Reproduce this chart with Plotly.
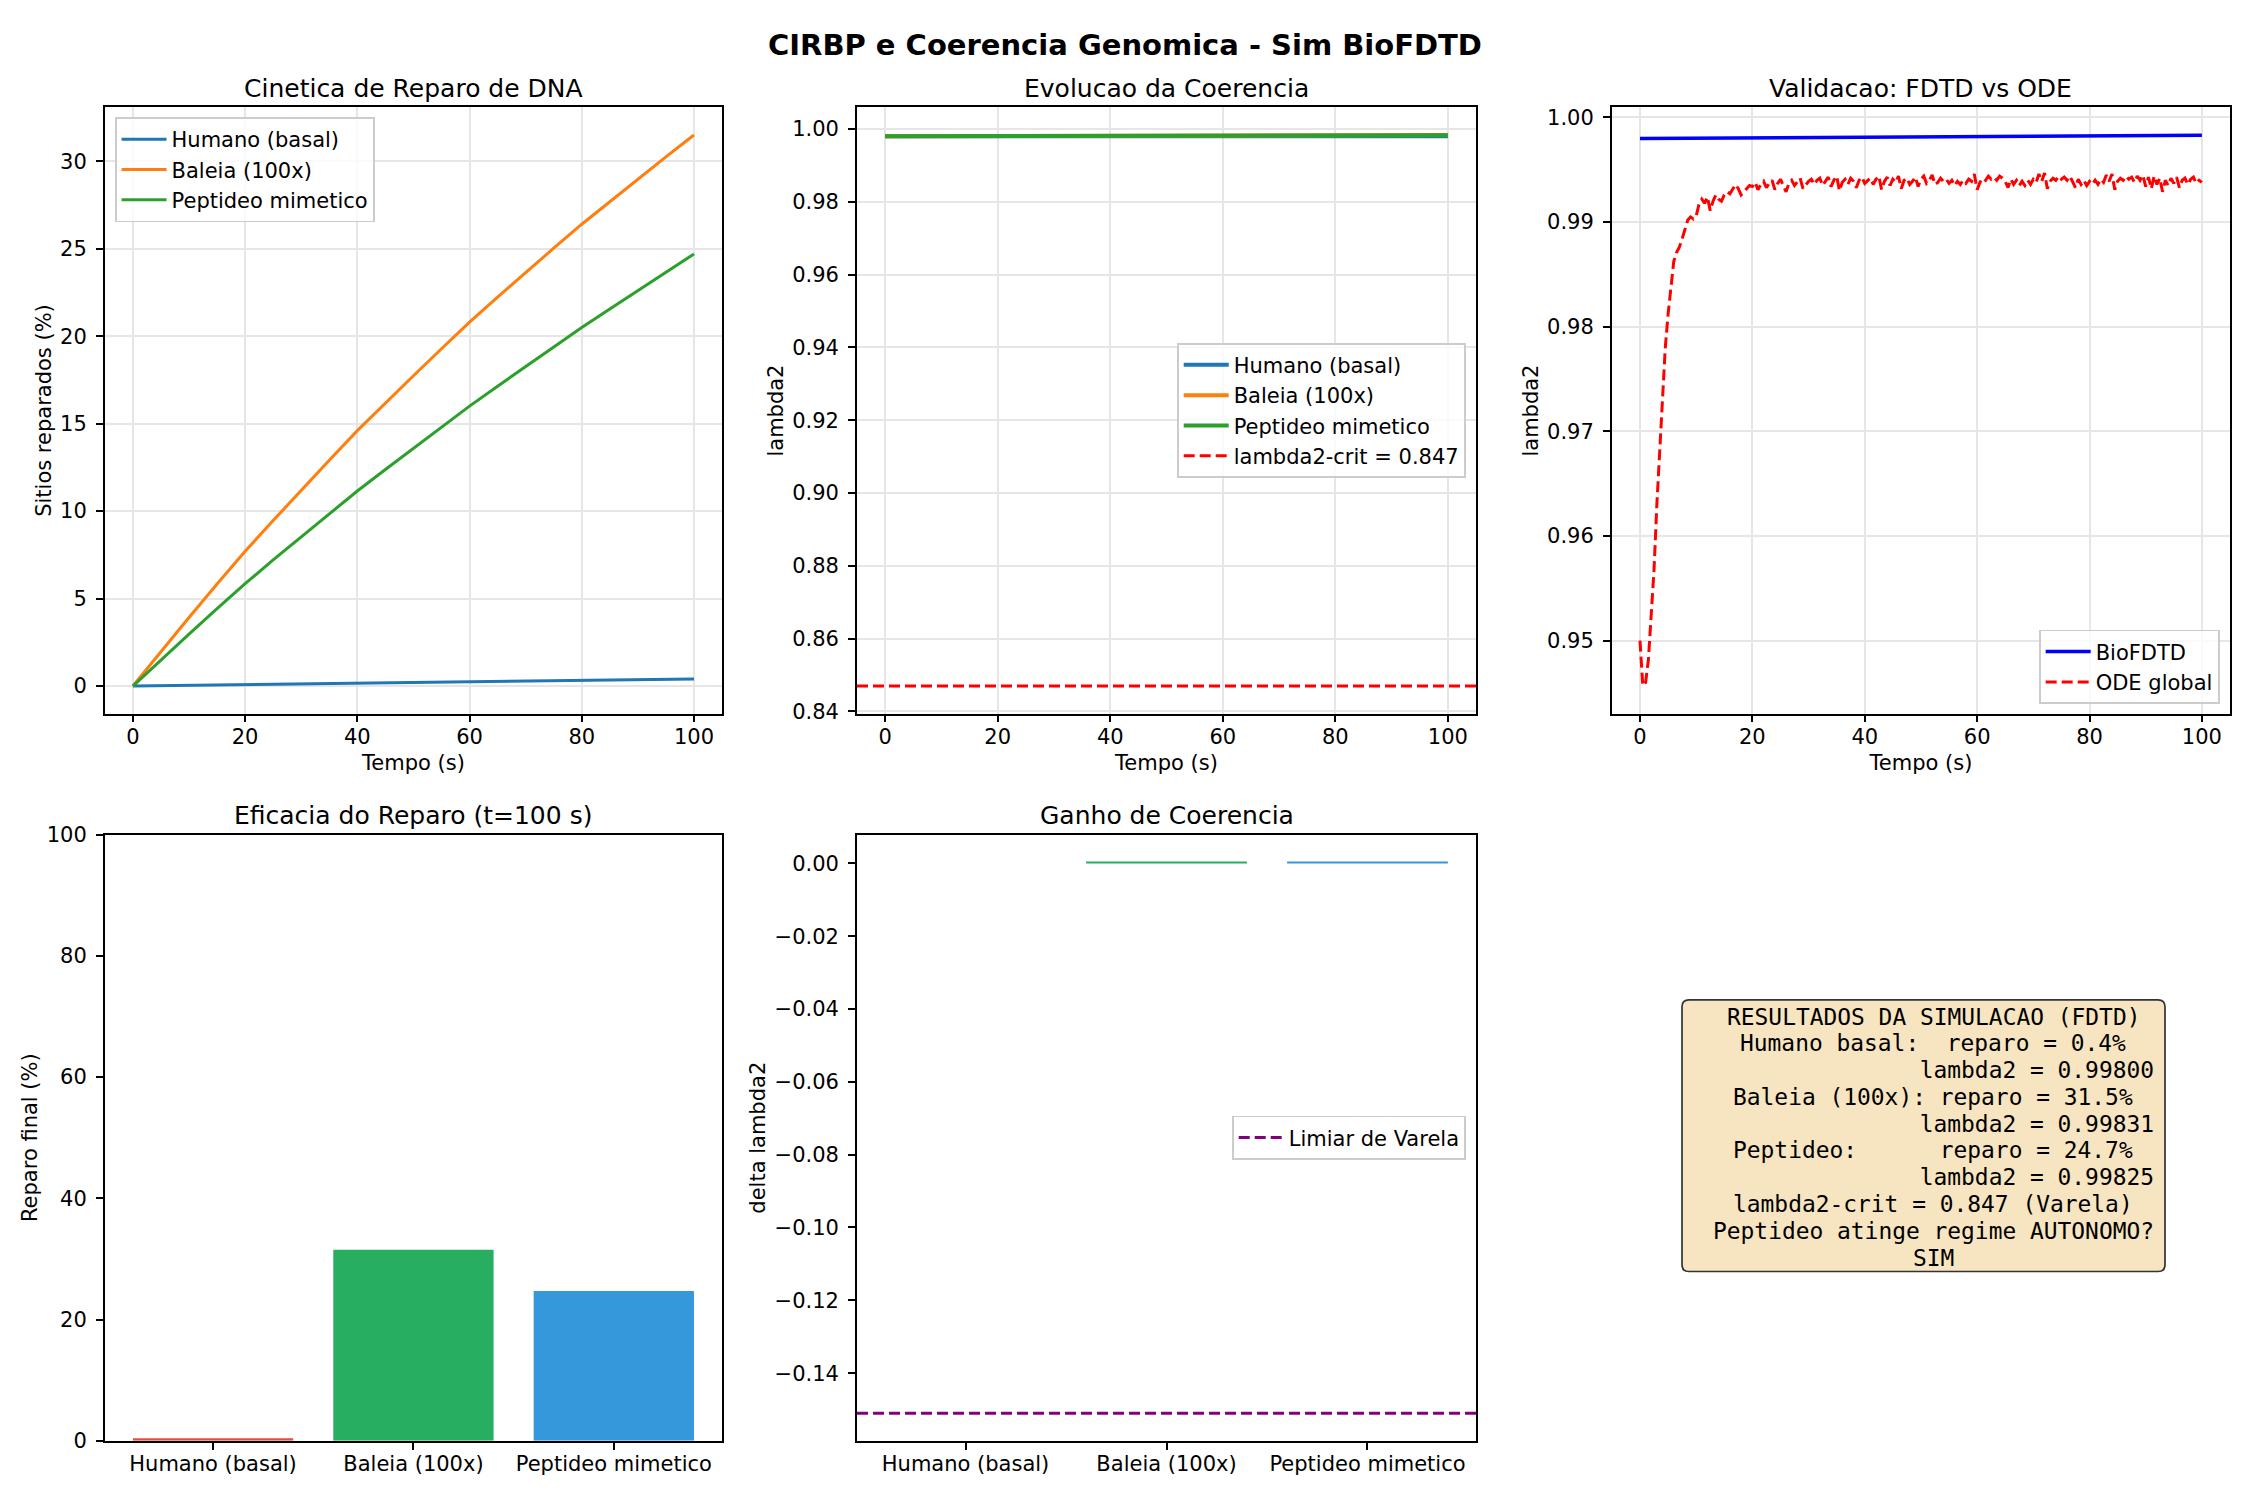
import numpy as np
import plotly.graph_objects as go

FONT = "DejaVu Sans"
MONO = "DejaVu Sans Mono"

GROUPS = ["Humano (basal)", "Baleia (100x)", "Peptideo mimetico"]
LINE_COLORS = ["#1f77b4", "#ff7f0e", "#2ca02c"]
BAR_COLORS = ["#e74c3c", "#27ae60", "#3498db"]

# repair kinetics, sampled every 5 s (%)
T_REPAIR = [0, 5, 10, 15, 20, 25, 30, 35, 40, 45, 50, 55, 60, 65, 70, 75, 80, 85, 90, 95, 100]
REPAIR_HUMANO = [0.00, 0.02, 0.04, 0.06, 0.08, 0.10, 0.12, 0.14, 0.16, 0.18, 0.20,
                 0.22, 0.24, 0.26, 0.28, 0.30, 0.32, 0.34, 0.36, 0.38, 0.40]
REPAIR_BALEIA = [0.00, 1.98, 3.92, 5.83, 7.70, 9.46, 11.20, 12.91, 14.60, 16.18, 17.74,
                 19.28, 20.80, 22.23, 23.64, 25.03, 26.40, 27.70, 28.98, 30.25, 31.50]
REPAIR_PEPTIDEO = [0.00, 1.50, 2.97, 4.42, 5.85, 7.21, 8.54, 9.85, 11.15, 12.38, 13.60,
                   14.81, 16.00, 17.14, 18.27, 19.39, 20.50, 21.56, 22.61, 23.66, 24.70]

# coherence lambda2, sampled every 10 s
T_COARSE = [0, 10, 20, 30, 40, 50, 60, 70, 80, 90, 100]
LAMBDA_HUMANO = [0.99800, 0.99800, 0.99800, 0.99800, 0.99800, 0.99800,
                 0.99800, 0.99800, 0.99800, 0.99800, 0.99800]
LAMBDA_BALEIA = [0.99800, 0.99803, 0.99806, 0.99809, 0.99812, 0.99815,
                 0.99818, 0.99821, 0.99824, 0.99828, 0.99831]
LAMBDA_PEPTIDEO = [0.99800, 0.99803, 0.99805, 0.99808, 0.99810, 0.99813,
                   0.99815, 0.99818, 0.99820, 0.99823, 0.99825]
BIOFDTD = [0.99800, 0.99803, 0.99806, 0.99809, 0.99812, 0.99815,
           0.99818, 0.99821, 0.99824, 0.99827, 0.99830]

# ODE global, sampled every 0.5 s from 0 to 100 s
ODE_GLOBAL = [
    0.9500, 0.9457, 0.9460, 0.9482, 0.9525, 0.9568, 0.9630, 0.9684, 0.9736, 0.9780,
    0.9812, 0.9840, 0.9862, 0.9871, 0.9876, 0.9884, 0.9894, 0.9902, 0.9905, 0.9903,
    0.9906, 0.9917, 0.9922, 0.9918, 0.9924, 0.9911, 0.9920, 0.9926, 0.9922, 0.9920,
    0.9926, 0.9929, 0.9927, 0.9931, 0.9936, 0.9932, 0.9926, 0.9929, 0.9932, 0.9935,
    0.9934,
    0.9938, 0.9931, 0.9936, 0.9939, 0.9933, 0.9937, 0.9940, 0.9931, 0.9937, 0.9941,
    0.9934, 0.9929, 0.9937, 0.9940, 0.9935, 0.9938, 0.9942, 0.9932, 0.9936, 0.9939,
    0.9941, 0.9936, 0.9940, 0.9942, 0.9935, 0.9939, 0.9943, 0.9934, 0.9940, 0.9944,
    0.9930, 0.9938, 0.9941, 0.9936, 0.9942, 0.9939, 0.9933, 0.9940, 0.9943, 0.9937,
    0.9940, 0.9942, 0.9936, 0.9941, 0.9944, 0.9931, 0.9939, 0.9943, 0.9935, 0.9941,
    0.9938, 0.9944, 0.9932, 0.9940, 0.9942, 0.9936, 0.9939, 0.9943, 0.9934, 0.9941,
    0.9944, 0.9937, 0.9940, 0.9945, 0.9936, 0.9938, 0.9942, 0.9939, 0.9941, 0.9937,
    0.9940, 0.9935, 0.9939, 0.9936, 0.9940, 0.9937, 0.9941, 0.9939, 0.9946, 0.9931,
    0.9938, 0.9942, 0.9940, 0.9944, 0.9941, 0.9943, 0.9940, 0.9944, 0.9942, 0.9939,
    0.9933, 0.9941, 0.9936, 0.9940, 0.9935, 0.9939, 0.9935, 0.9940, 0.9936, 0.9941,
    0.9938, 0.9946, 0.9939, 0.9947, 0.9932, 0.9939, 0.9942, 0.9940, 0.9944, 0.9941,
    0.9943, 0.9940, 0.9944, 0.9939, 0.9933, 0.9941, 0.9936, 0.9940, 0.9935, 0.9939,
    0.9936, 0.9940, 0.9936, 0.9941, 0.9938, 0.9945, 0.9939, 0.9946, 0.9931, 0.9939,
    0.9942, 0.9940, 0.9944, 0.9941, 0.9943, 0.9938, 0.9944, 0.9940, 0.9945, 0.9934,
    0.9943, 0.9932, 0.9944, 0.9936, 0.9942, 0.9929, 0.9940, 0.9935, 0.9942, 0.9937,
    0.9943, 0.9933, 0.9940, 0.9942, 0.9936, 0.9941, 0.9943, 0.9937, 0.9940, 0.9938,
]
T_ODE = np.arange(len(ODE_GLOBAL)) * 0.5

LAMBDA_CRIT = 0.847
FINAL_REPAIR = [0.4, 31.5, 24.7]
DELTA_LAMBDA = [0.0, 0.00031, 0.00025]
VARELA_DELTA = -0.151

SUMMARY_LINES = [
    "RESULTADOS DA SIMULACAO (FDTD)",
    "Humano basal:  reparo = 0.4%",
    "               lambda2 = 0.99800",
    "Baleia (100x): reparo = 31.5%",
    "               lambda2 = 0.99831",
    "Peptideo:      reparo = 24.7%",
    "               lambda2 = 0.99825",
    "lambda2-crit = 0.847 (Varela)",
    "Peptideo atinge regime AUTONOMO?",
    "SIM",
]

W, H = 2250, 1500
X_DOMAINS = [[0.0466, 0.3209], [0.3809, 0.6560], [0.7164, 0.9911]]
Y_TOP = [1 - 713 / H, 1 - 97 / H]
Y_BOTTOM = [1 - 1452 / H, 1 - 836 / H]
DASH = "11px,5px"

fig = go.Figure()

# panel 1 - repair kinetics
for name, values, color in zip(GROUPS, [REPAIR_HUMANO, REPAIR_BALEIA, REPAIR_PEPTIDEO], LINE_COLORS):
    fig.add_trace(go.Scatter(x=T_REPAIR, y=values, name=name, mode="lines",
                             line=dict(color=color, width=3), xaxis="x", yaxis="y", legend="legend"))

# panel 2 - coherence
for name, values, color in zip(GROUPS, [LAMBDA_HUMANO, LAMBDA_BALEIA, LAMBDA_PEPTIDEO], LINE_COLORS):
    fig.add_trace(go.Scatter(x=T_COARSE, y=values, name=name, mode="lines",
                             line=dict(color=color, width=4), xaxis="x2", yaxis="y2", legend="legend2"))

# panel 3 - validation
fig.add_trace(go.Scatter(x=T_COARSE, y=BIOFDTD, name="BioFDTD", mode="lines",
                         line=dict(color="#0000ff", width=3.5), xaxis="x3", yaxis="y3", legend="legend3"))
fig.add_trace(go.Scatter(x=T_ODE, y=ODE_GLOBAL, name="ODE global", mode="lines",
                         line=dict(color="#ff0000", width=3, dash=DASH), xaxis="x3", yaxis="y3",
                         legend="legend3"))

# panel 4 - final repair
fig.add_trace(go.Bar(x=GROUPS, y=FINAL_REPAIR, width=0.8, marker=dict(color=BAR_COLORS, line=dict(width=0)),
                     xaxis="x4", yaxis="y4", showlegend=False))

# panel 5 - coherence gain
fig.add_trace(go.Bar(x=GROUPS, y=DELTA_LAMBDA, width=0.8, marker=dict(color=BAR_COLORS, line=dict(width=0)),
                     xaxis="x5", yaxis="y5", showlegend=False))

fig.add_shape(type="line", xref="x2 domain", yref="y2", x0=0, x1=1, y0=LAMBDA_CRIT, y1=LAMBDA_CRIT,
              line=dict(color="#ff0000", width=3, dash=DASH),
              showlegend=True, legend="legend2", name=f"lambda2-crit = {LAMBDA_CRIT}")
fig.add_shape(type="line", xref="x5 domain", yref="y5", x0=0, x1=1, y0=VARELA_DELTA, y1=VARELA_DELTA,
              line=dict(color="#800080", width=3, dash=DASH),
              showlegend=True, legend="legend4", name="Limiar de Varela")

# summary text box (rounded rectangle)
bx0, bx1, by0, by1, r = 1682, 2165, 1004, 1280, 7
px = lambda v: v / W
py = lambda v: 1 - v / H
box_path = (
    f"M {px(bx0 + r)},{py(by0)} L {px(bx1 - r)},{py(by0)} Q {px(bx1)},{py(by0)} {px(bx1)},{py(by0 + r)} "
    f"L {px(bx1)},{py(by1 - r)} Q {px(bx1)},{py(by1)} {px(bx1 - r)},{py(by1)} "
    f"L {px(bx0 + r)},{py(by1)} Q {px(bx0)},{py(by1)} {px(bx0)},{py(by1 - r)} "
    f"L {px(bx0)},{py(by0 + r)} Q {px(bx0)},{py(by0)} {px(bx0 + r)},{py(by0)} Z"
)
fig.add_shape(type="path", xref="paper", yref="paper", path=box_path,
              fillcolor="rgba(245,222,179,0.8)", line=dict(color="#333333", width=1.7), layer="above")


def axis(domain, anchor, grid, title=None, standoff_labels=5, title_gap=3, **kw):
    spec = dict(domain=domain, anchor=anchor, showline=True, mirror=True, linecolor="black",
                linewidth=1.7, ticks="outside", ticklen=7, tickwidth=1.7, tickcolor="black",
                tickfont=dict(size=21, color="black"), zeroline=False, showgrid=grid,
                gridcolor="#e6e6e6", gridwidth=1.6, ticklabelstandoff=standoff_labels)
    if title:
        spec["title"] = dict(text=title, font=dict(size=21, color="black"), standoff=title_gap)
    spec.update(kw)
    return spec


time_kw = dict(range=[-5, 105], tick0=0, dtick=20, standoff_labels=-4, title_gap=8)
cat_kw = dict(type="category", range=[-0.54, 2.54], standoff_labels=-4)

legend_style = dict(font=dict(size=21, color="black", family=FONT), bgcolor="rgba(255,255,255,0.8)",
                    bordercolor="#cccccc", borderwidth=1.7, itemwidth=45)

titles = [
    ("Cinetica de Reparo de DNA", X_DOMAINS[0], Y_TOP),
    ("Evolucao da Coerencia", X_DOMAINS[1], Y_TOP),
    ("Validacao: FDTD vs ODE", X_DOMAINS[2], Y_TOP),
    ("Eficacia do Reparo (t=100 s)", X_DOMAINS[0], Y_BOTTOM),
    ("Ganho de Coerencia", X_DOMAINS[1], Y_BOTTOM),
]
annotations = [
    dict(text=text, x=(xd[0] + xd[1]) / 2, y=yd[1] + 19 / H, xref="paper", yref="paper",
         xanchor="center", yanchor="middle", showarrow=False, font=dict(size=25, color="black"))
    for text, xd, yd in titles
]
annotations.append(dict(text="<b>CIRBP e Coerencia Genomica - Sim BioFDTD</b>", x=0.5, y=1 - 34 / H,
                        xref="paper", yref="paper", xanchor="center", yanchor="middle", showarrow=False,
                        font=dict(size=29, color="black")))
for i, line in enumerate(SUMMARY_LINES):
    annotations.append(dict(text=line.replace(" ", "\u00a0"), x=1933 / W, y=1 - (1021 + 27.2 * i) / H,
                            xref="paper", yref="paper", xanchor="center", yanchor="middle",
                            showarrow=False, font=dict(family=MONO, size=22.9, color="black")))

pad = 10 / H
fig.update_layout(
    width=W,
    height=H,
    margin=dict(l=0, r=0, t=0, b=0),
    paper_bgcolor="white",
    plot_bgcolor="white",
    font=dict(family=FONT, size=21, color="black"),
    xaxis=axis(X_DOMAINS[0], "y", True, "Tempo (s)", **time_kw),
    yaxis=axis(Y_TOP, "x", True, "Sitios reparados (%)", range=[-1.575, 33.075], dtick=5),
    xaxis2=axis(X_DOMAINS[1], "y2", True, "Tempo (s)", **time_kw),
    yaxis2=axis(Y_TOP, "x2", True, "lambda2", range=[0.8394, 1.0059], tick0=0.84, dtick=0.02,
                tickformat=".2f"),
    xaxis3=axis(X_DOMAINS[2], "y3", True, "Tempo (s)", **time_kw),
    yaxis3=axis(Y_TOP, "x3", True, "lambda2", range=[0.94303, 1.00096], tick0=0.95, dtick=0.01,
                tickformat=".2f"),
    xaxis4=axis(X_DOMAINS[0], "y4", False, **cat_kw),
    yaxis4=axis(Y_BOTTOM, "x4", False, "Reparo final (%)", range=[0, 100], dtick=20),
    xaxis5=axis(X_DOMAINS[1], "y5", False, **cat_kw),
    yaxis5=axis(Y_BOTTOM, "x5", False, "delta lambda2", range=[-0.15857, 0.00788], tick0=0,
                dtick=0.02, tickformat=".2f"),
    legend=dict(x=X_DOMAINS[0][0] + 10 / W, y=Y_TOP[1] - pad, xanchor="left", yanchor="top", **legend_style),
    legend2=dict(x=X_DOMAINS[1][1] - 10 / W, y=sum(Y_TOP) / 2, xanchor="right", yanchor="middle",
                 **legend_style),
    legend3=dict(x=X_DOMAINS[2][1] - 10 / W, y=Y_TOP[0] + pad, xanchor="right", yanchor="bottom",
                 **legend_style),
    legend4=dict(x=X_DOMAINS[1][1] - 10 / W, y=sum(Y_BOTTOM) / 2, xanchor="right", yanchor="middle",
                 **legend_style),
    annotations=annotations,
)

fig.write_html("out.html", config={"displayModeBar": False},
               post_script="document.body.style.margin='0';document.body.style.overflow='hidden';")
